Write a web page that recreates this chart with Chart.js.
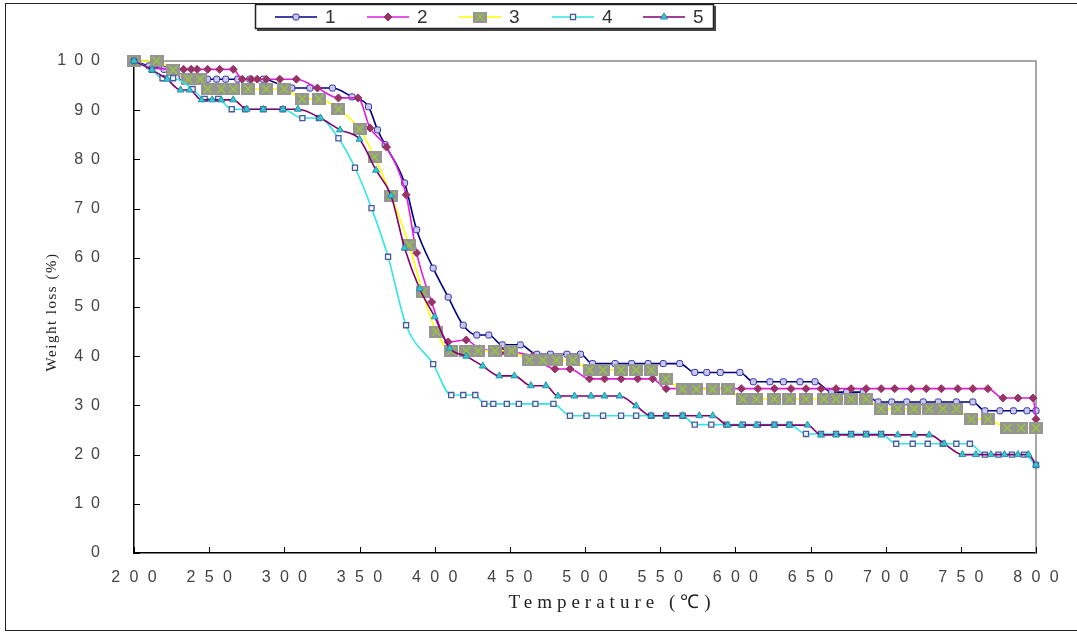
<!DOCTYPE html>
<html>
<head>
<meta charset="utf-8">
<script src="https://cdn.jsdelivr.net/npm/chart.js@4.4.1/dist/chart.umd.min.js"></script>
<style>
  html, body { margin: 0; padding: 0; background: #fff; }
  #wrap { width: 1077px; height: 634px; }
</style>
</head>
<body>
<div id="wrap"><canvas id="tgaChart" width="1077" height="634"></canvas></div>
<script>
// temperature (°C) / weight loss (%)
const temp1 = [200, 210, 220, 232, 249, 255, 261, 269, 277, 286, 305, 317, 332, 345, 356, 362, 367, 380, 388, 399, 409, 419, 428, 436, 445, 457, 468, 477, 488, 497, 505, 520, 531, 542, 552, 563, 573, 581, 590, 603, 612, 623, 632, 643, 653, 664, 674, 685, 695, 704, 714, 725, 735, 747, 758, 766, 776, 785, 794, 800];
const loss1 = [100, 99, 98.3, 96.8, 96.3, 96.3, 96.3, 96.3, 96.3, 96.3, 94.5, 94.5, 94.5, 92.7, 90.7, 86, 83, 75.2, 65.7, 57.9, 52, 46.3, 44.3, 44.3, 42.3, 42.3, 40.4, 40.4, 40.4, 40.4, 38.5, 38.5, 38.5, 38.5, 38.5, 38.5, 36.7, 36.7, 36.7, 36.7, 34.8, 34.8, 34.8, 34.8, 34.8, 32.7, 32.7, 32.7, 30.7, 30.7, 30.7, 30.7, 30.7, 30.7, 30.7, 28.9, 28.9, 28.9, 28.9, 28.9];

const temp2 = [200, 212, 233, 238, 242, 249, 257, 266, 272, 278, 282, 288, 297, 308, 322, 336, 349, 357, 368, 381, 388, 398, 409, 421, 430, 445, 465, 480, 490, 503, 513, 524, 535, 545, 554, 565, 575, 585, 595, 604, 615, 626, 637, 647, 657, 667, 677, 687, 697, 706, 717, 727, 737, 748, 758, 768, 778, 788, 798, 800];
const loss2 = [100, 98.6, 98.3, 98.3, 98.3, 98.3, 98.3, 98.3, 96.3, 96.3, 96.3, 96.3, 96.3, 96.3, 94.5, 92.5, 92.5, 86.4, 82.5, 72.8, 61, 51, 42.9, 43.3, 41.5, 41, 40, 37.4, 37.4, 35.4, 35.4, 35.4, 35.4, 35.4, 33.4, 33.4, 33.4, 33.4, 33.4, 33.4, 33.4, 33.4, 33.4, 33.4, 33.4, 33.4, 33.4, 33.4, 33.4, 33.4, 33.4, 33.4, 33.4, 33.4, 33.4, 33.4, 31.5, 31.5, 31.5, 27.2];

const temp3 = [200, 215, 226, 236, 244, 249, 258, 266, 276, 288, 300, 312, 323, 336, 350, 360, 371, 383, 392, 401, 411, 421, 429, 440, 451, 463, 472, 481, 492, 503, 512, 524, 534, 544, 554, 565, 574, 585, 595, 605, 614, 626, 636, 647, 659, 667, 677, 687, 697, 708, 719, 729, 738, 747, 757, 768, 781, 790, 800];
const loss3 = [100, 100, 98.2, 96.3, 96.3, 94.3, 94.3, 94.3, 94.3, 94.3, 94.3, 92.3, 92.3, 90.2, 86.2, 80.5, 72.6, 62.6, 53, 45, 41.1, 41.1, 41.1, 41.1, 41.1, 39.2, 39.2, 39.2, 39.2, 37.2, 37.2, 37.2, 37.2, 37.2, 35.4, 33.3, 33.3, 33.3, 33.3, 31.3, 31.3, 31.3, 31.3, 31.3, 31.3, 31.3, 31.3, 31.3, 29.3, 29.3, 29.3, 29.3, 29.3, 29.3, 27.2, 27.2, 25.4, 25.4, 25.4];

const temp4 = [200, 212, 219, 226, 239, 247, 256, 265, 274, 286, 299, 312, 323, 336, 347, 358, 369, 381, 399, 411, 419, 427, 433, 439, 448, 456, 467, 479, 490, 501, 512, 524, 534, 544, 554, 565, 573, 584, 594, 605, 615, 626, 636, 647, 657, 667, 677, 687, 697, 707, 718, 728, 738, 747, 756, 766, 775, 784, 792, 800];
const loss4 = [100, 98.2, 96.5, 96.5, 94.3, 92.3, 92.3, 90.2, 90.2, 90.2, 90.2, 88.4, 88.4, 84.3, 78.3, 70.1, 60.2, 46.3, 38.4, 32.1, 32.1, 32.1, 30.3, 30.3, 30.3, 30.3, 30.3, 30.3, 27.9, 27.9, 27.9, 27.9, 27.9, 27.9, 27.9, 27.9, 26.1, 26.1, 26.1, 26.1, 26.1, 26.1, 26.1, 24.2, 24.2, 24.2, 24.2, 24.2, 24.2, 22.2, 22.2, 22.2, 22.2, 22.2, 22.2, 20, 20, 20, 20, 17.9];

const temp5 = [200, 212, 222, 231, 237, 245, 252, 258, 266, 275, 286, 299, 309, 324, 337, 350, 361, 371, 380, 390, 400, 410, 421, 432, 443, 453, 464, 474, 482, 493, 504, 513, 523, 534, 544, 554, 565, 576, 585, 595, 604, 614, 626, 636, 648, 657, 667, 677, 687, 697, 708, 719, 729, 739, 751, 760, 770, 779, 788, 795, 800];
const loss5 = [100, 98.2, 96.3, 94.1, 94.1, 92.1, 92.1, 92.1, 92.1, 90.2, 90.2, 90.2, 90.2, 88.4, 86, 84.1, 77.8, 72.6, 62, 53.7, 48, 41.6, 40, 38, 36, 36, 34, 34, 31.9, 31.9, 31.9, 31.9, 31.9, 29.9, 27.9, 27.9, 27.9, 27.9, 27.9, 26, 26, 26, 26, 26, 26, 24, 24, 24, 24, 24, 24, 24, 24, 22.2, 20, 20, 20, 20, 20, 20, 17.9];

const seriesNames = ['1', '2', '3', '4', '5'];
const xMin = 200, xMax = 800, xStep = 50;
const yMin = 0, yMax = 100, yStep = 10;

function pts(t, w) { return t.map((v, i) => ({ x: v, y: w[i] })); }
function spaced(v, gap) { return String(v).split('').join(gap); }

// grey box with green cross, like the excel marker of series 3
function makeBoxMarker(w, h) {
  const c = document.createElement('canvas');
  c.width = w; c.height = h;
  const g = c.getContext('2d');
  g.fillStyle = '#959595';
  g.fillRect(0, 0, w, h);
  g.strokeStyle = '#9cc83a';
  g.lineWidth = 1.5;
  g.beginPath();
  g.moveTo(3, 2); g.lineTo(w - 3, h - 2);
  g.moveTo(w - 3, 2); g.lineTo(3, h - 2);
  g.stroke();
  return c;
}
const boxMarker = makeBoxMarker(14, 12);
const boxMarkerSmall = makeBoxMarker(14, 11);

const common = { borderWidth: 1.6, cubicInterpolationMode: 'monotone', clip: false, pointBorderWidth: 1 };
const datasets = [
  { ...common, label: seriesNames[0], data: pts(temp1, loss1), borderColor: '#000080', pointStyle: 'rectRounded', pointRadius: 3.5, pointBackgroundColor: '#c8c8f0', pointBorderColor: '#333399', order: 5 },
  { ...common, label: seriesNames[1], data: pts(temp2, loss2), borderColor: '#e01ee0', pointStyle: 'rectRot', pointRadius: 4, pointBackgroundColor: '#993366', pointBorderColor: '#993366', order: 4 },
  { ...common, label: seriesNames[2], data: pts(temp3, loss3), borderColor: '#ffff00', pointStyle: boxMarker, order: 3 },
  { ...common, label: seriesNames[3], data: pts(temp4, loss4), borderColor: '#33e6e6', pointStyle: 'rect', pointRadius: 3.6, pointBackgroundColor: '#eefaff', pointBorderColor: '#4a5a9a', pointBorderWidth: 1.3, order: 2 },
  { ...common, label: seriesNames[4], data: pts(temp5, loss5), borderColor: '#800070', pointStyle: 'triangle', pointRadius: 4, pointBackgroundColor: '#33cccc', pointBorderColor: '#2a8fb0', order: 1 }
];

const framePlugin = {
  id: 'frame',
  beforeDraw(chart) {
    const ctx = chart.ctx;
    ctx.save();
    ctx.fillStyle = '#fff';
    ctx.fillRect(0, 0, chart.width, chart.height);
    ctx.strokeStyle = '#222';
    ctx.lineWidth = 1;
    ctx.strokeRect(5.5, 3.5, 1200, 627);
    ctx.restore();
  },
  beforeDatasetsDraw(chart) {
    const { ctx, chartArea: a, scales } = chart;
    ctx.save();
    ctx.strokeStyle = '#8a8a8a';
    ctx.lineWidth = 1.5;
    ctx.beginPath();
    ctx.moveTo(a.left, a.top); ctx.lineTo(a.right, a.top); ctx.lineTo(a.right, a.bottom);
    ctx.stroke();
    // inward tick marks
    ctx.strokeStyle = '#000';
    ctx.lineWidth = 1;
    ctx.beginPath();
    scales.y.ticks.forEach(t => {
      const y = Math.round(scales.y.getPixelForValue(t.value)) + 0.5;
      ctx.moveTo(a.left, y); ctx.lineTo(a.left + 6, y);
    });
    scales.x.ticks.forEach(t => {
      const x = Math.round(scales.x.getPixelForValue(t.value)) + 0.5;
      ctx.moveTo(x, a.bottom); ctx.lineTo(x, a.bottom - 6);
    });
    ctx.stroke();
    ctx.restore();
  },
  afterDraw(chart) {
    const ctx = chart.ctx;
    ctx.save();
    // axis titles
    ctx.fillStyle = '#222';
    ctx.textAlign = 'center';
    ctx.textBaseline = 'middle';
    ctx.font = '19px "Liberation Serif"';
    ctx.letterSpacing = '5px';
    ctx.fillText('Temperature (\u2103)', 612, 603);
    ctx.letterSpacing = '1.5px';
    ctx.translate(52, 312);
    ctx.rotate(-Math.PI / 2);
    ctx.font = '15px "Liberation Serif"';
    ctx.fillText('Weight loss (%)', 0, 0);
    ctx.restore();

    // legend box
    ctx.save();
    ctx.fillStyle = '#fff';
    ctx.fillRect(255, 4, 459, 25);
    ctx.strokeStyle = '#222';
    ctx.lineWidth = 1.5;
    ctx.strokeRect(255.5, 4.5, 458, 24);
    ctx.fillStyle = '#444';
    ctx.fillRect(714, 6, 2, 25);
    ctx.fillRect(257, 29, 459, 2);
    const xs = [275, 367, 459, 552, 643];
    const ly = 17;
    datasets.forEach((ds, i) => {
      const x0 = xs[i];
      ctx.strokeStyle = ds.borderColor;
      ctx.lineWidth = 1.6;
      ctx.beginPath();
      ctx.moveTo(x0, ly); ctx.lineTo(x0 + 42, ly);
      ctx.stroke();
      ctx.fillStyle = ds.pointBackgroundColor || '#959595';
      ctx.strokeStyle = ds.pointBorderColor || '#959595';
      ctx.lineWidth = ds.pointBorderWidth || 1;
      const style = i === 2 ? boxMarkerSmall : ds.pointStyle;
      Chart.helpers.drawPoint(ctx, { pointStyle: style, radius: ds.pointRadius || 4, borderWidth: ds.pointBorderWidth || 1, rotation: 0 }, x0 + 21, ly);
      ctx.fillStyle = '#333';
      ctx.font = '19px "Liberation Sans"';
      ctx.textAlign = 'left';
      ctx.textBaseline = 'middle';
      ctx.fillText(ds.label, x0 + 50, ly + 1);
    });
    ctx.restore();
  }
};

const tickFont = { family: '"Liberation Sans"', size: 16 };
new Chart(document.getElementById('tgaChart'), {
  type: 'line',
  data: { datasets: datasets },
  options: {
    responsive: false,
    animation: false,
    devicePixelRatio: 1,
    layout: { padding: { top: 61, right: 41, left: 0, bottom: 0 } },
    plugins: { legend: { display: false }, tooltip: { enabled: false } },
    scales: {
      x: {
        type: 'linear', min: xMin, max: xMax,
        ticks: { stepSize: xStep, padding: 15, color: '#444', font: tickFont, maxRotation: 0, callback: v => spaced(v, '\u2002\u200A') },
        grid: { display: false, drawTicks: false },
        border: { color: '#000', width: 1.5 },
        afterFit(s) { s.height = 81; }
      },
      y: {
        min: yMin, max: yMax,
        ticks: { stepSize: yStep, padding: 34, color: '#444', font: tickFont, callback: v => spaced(v, '\u2002') },
        grid: { display: false, drawTicks: false },
        border: { color: '#000', width: 1.5 },
        afterFit(s) { s.width = 134; }
      }
    }
  },
  plugins: [framePlugin]
});
</script>
</body>
</html>
